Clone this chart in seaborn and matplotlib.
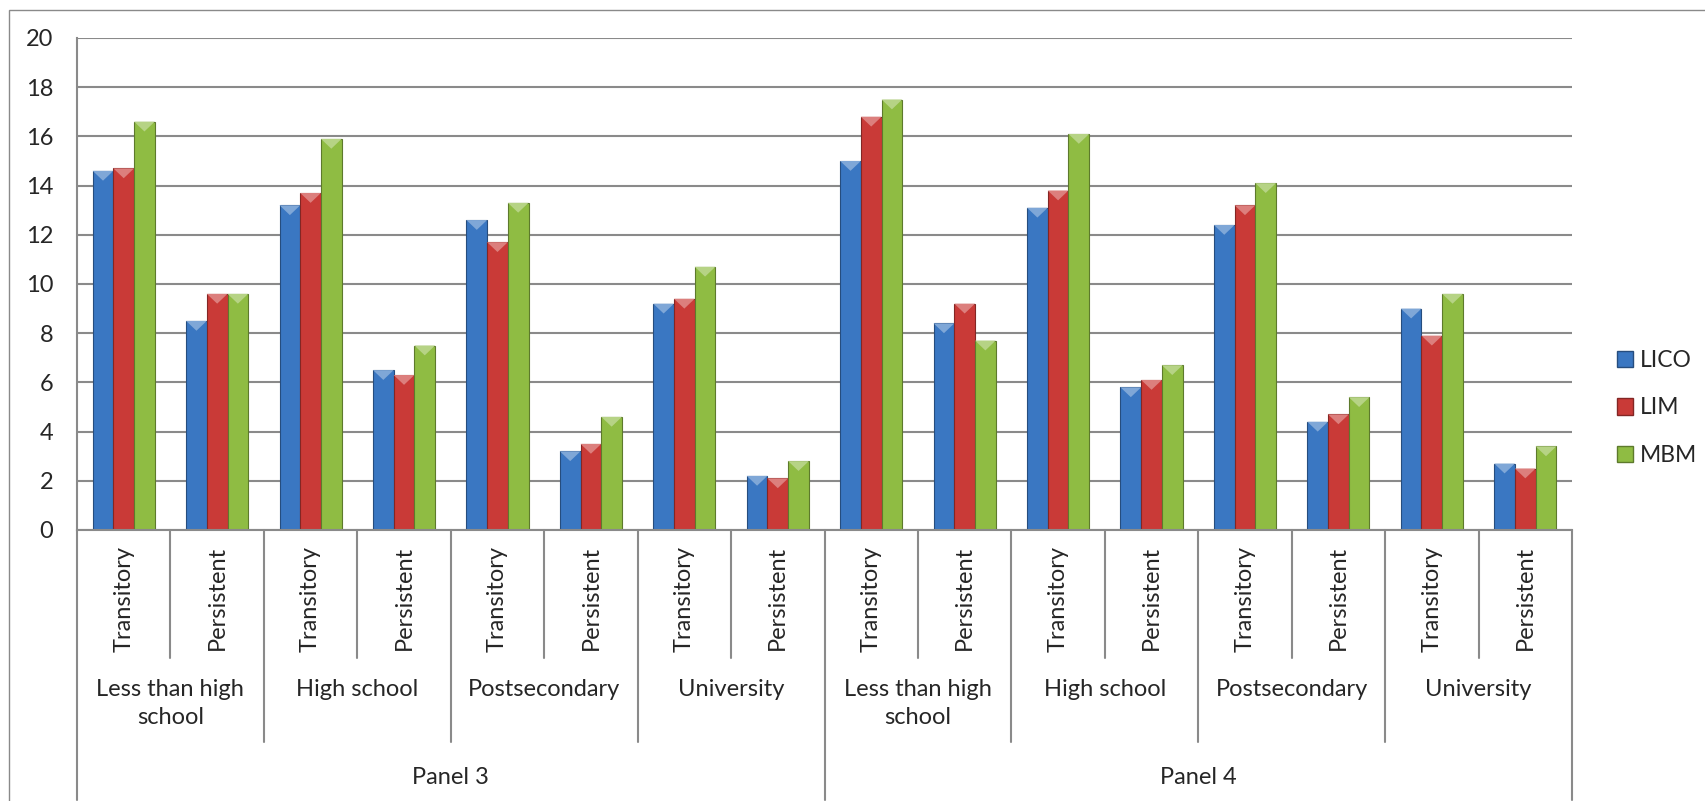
import numpy as np
import pandas as pd
import matplotlib.pyplot as plt
import matplotlib.transforms as mtransforms
from matplotlib.colors import to_rgb
from matplotlib.lines import Line2D
from matplotlib.patches import Patch, Polygon, Rectangle
import seaborn as sns

# -----------------------------
# Data
# -----------------------------
panels = ["Panel 3", "Panel 4"]
education = ["Less than high\nschool", "High school", "Postsecondary", "University"]
duration = ["Transitory", "Persistent"]
measures = ["LICO", "LIM", "MBM"]

# one value per (panel, education, duration) slot, in display order
lico = [14.6, 8.5, 13.2, 6.5, 12.6, 3.2, 9.2, 2.2,
        15.0, 8.4, 13.1, 5.8, 12.4, 4.4, 9.0, 2.7]
lim = [14.7, 9.6, 13.7, 6.3, 11.7, 3.5, 9.4, 2.1,
       16.8, 9.2, 13.8, 6.1, 13.2, 4.7, 7.9, 2.5]
mbm = [16.6, 9.6, 15.9, 7.5, 13.3, 4.6, 10.7, 2.8,
       17.5, 7.7, 16.1, 6.7, 14.1, 5.4, 9.6, 3.4]

colors = {"LICO": "#3a77c2", "LIM": "#c93a37", "MBM": "#8fbc43"}
GRID = "#8a8a8a"

# -----------------------------
# Long-format table
# -----------------------------
slots = [f"{p}|{e}|{d}" for p in panels for e in education for d in duration]
df = pd.DataFrame({
    "slot": slots * 3,
    "measure": np.repeat(measures, len(slots)),
    "value": lico + lim + mbm,
})

sns.set_style("white")
plt.rcParams["font.family"] = ["Lato", "DejaVu Sans"]

W, H = 1705, 801
fig = plt.figure(figsize=(W / 100, H / 100), dpi=100)
ax = fig.add_axes([77 / W, 1 - 530 / H, (1572 - 77) / W, (530 - 38) / H])

sns.barplot(data=df, x="slot", y="value", hue="measure", order=slots,
            hue_order=measures, palette=colors, width=0.665, ax=ax,
            saturation=1, edgecolor="none", linewidth=0, legend=False,
            zorder=2)


def shade(c, f):
    r = np.array(to_rgb(c))
    if f > 0:
        return tuple(r + (1 - r) * f)
    return tuple(r * (1 + f))


# bevelled look: darker edges + light triangle on top
for bar in ax.patches:
    x, w, h = bar.get_x(), bar.get_width(), bar.get_height()
    if h <= 0:
        continue
    fc = bar.get_facecolor()
    bar.set_edgecolor(shade(fc, -0.35))
    bar.set_linewidth(0.8)
    ax.add_patch(Polygon([(x, h), (x + w, h), (x + w / 2, h - 0.4)],
                         closed=True, facecolor=shade(fc, 0.35),
                         edgecolor="none", zorder=3))

ax.set_ylim(0, 20)
ax.set_xlim(-0.5, len(slots) - 0.5)
ax.set_yticks(range(0, 21, 2))
ax.set_xticks([])
ax.set_xlabel("")
ax.set_ylabel("")
ax.yaxis.grid(True, color=GRID, lw=1.5)
ax.set_axisbelow(True)
sns.despine(ax=ax, top=True, right=True)
for s in ["left", "bottom"]:
    ax.spines[s].set_color(GRID)
    ax.spines[s].set_linewidth(1.5)
ax.tick_params(axis="y", length=5, width=1.5, color=GRID, labelsize=17, pad=12)

# -----------------------------
# Multi-level category axis
# -----------------------------
trans = mtransforms.blended_transform_factory(ax.transData, fig.transFigure)
y0 = 1 - 530 / H
for b in range(len(slots) + 1):
    if b % 8 == 0:
        y1 = 1 - 800 / H
    elif b % 2 == 0:
        y1 = 1 - 742 / H
    else:
        y1 = 1 - 658 / H
    fig.add_artist(Line2D([b - 0.5, b - 0.5], [y0, y1], transform=trans,
                          color=GRID, lw=1.5, clip_on=False))

for i, s in enumerate(slots):
    ax.text(i, 1 - 546 / H, s.split("|")[2], rotation=90, ha="center",
            va="top", transform=trans, fontsize=17)

for g in range(len(panels) * len(education)):
    ax.text(2 * g + 0.5, 1 - 679 / H, education[g % len(education)],
            ha="center", va="top", transform=trans, fontsize=17,
            linespacing=1.4)

for p, name in enumerate(panels):
    ax.text(8 * p + 3.5, 1 - 777 / H, name, ha="center", va="center",
            transform=trans, fontsize=17)

# -----------------------------
# Legend + chart border
# -----------------------------
handles = [Patch(facecolor=colors[m], edgecolor=shade(colors[m], -0.35))
           for m in measures]
fig.legend(handles, measures, loc="center left",
           bbox_to_anchor=(1612 / W, 1 - 408 / H), frameon=False,
           fontsize=16.5, handlelength=0.7, handleheight=0.7,
           handletextpad=0.3, labelspacing=1.15, borderpad=0.2,
           borderaxespad=0.0)

fig.add_artist(Rectangle((9 / W, -0.05), 1.2, (H - 10) / H + 0.05,
                         transform=fig.transFigure, fill=False,
                         edgecolor=GRID, lw=1, clip_on=False))

fig.savefig("out.png", dpi=100)
